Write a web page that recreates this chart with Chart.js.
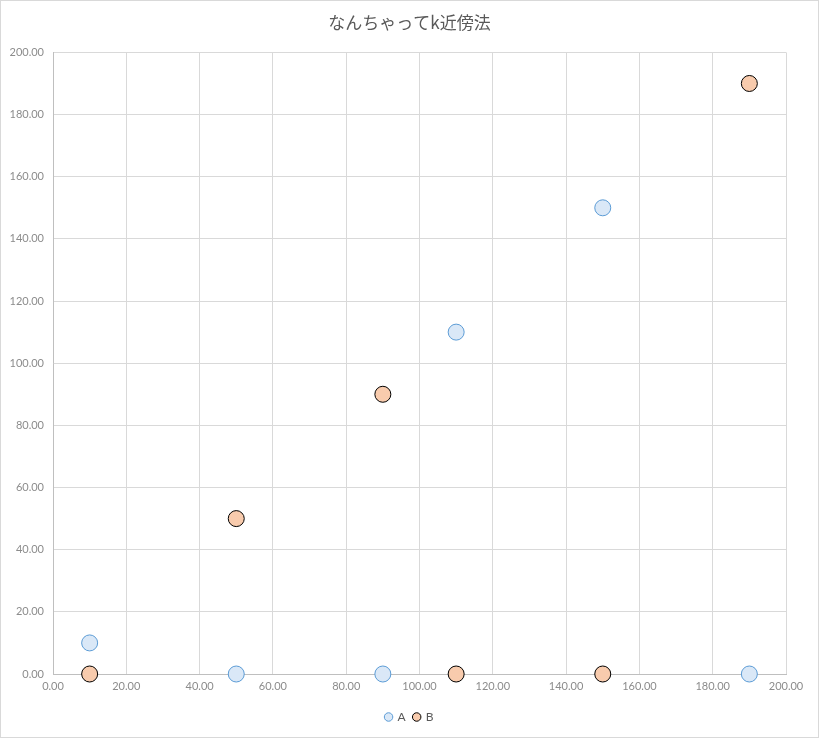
<!DOCTYPE html>
<html>
<head>
<meta charset="utf-8">
<script src="https://cdn.jsdelivr.net/npm/chart.js@4/dist/chart.umd.min.js"></script>
<style>
  body { margin: 0; background: #fff; }
  #wrap { width: 817px; height: 736px; border: 1px solid #d9d9d9; position: relative; }
</style>
</head>
<body>
<div id="wrap"><canvas id="myChart" width="817" height="736"></canvas></div>
<script>
// data
var chartTitle = 'なんちゃってk近傍法';
var seriesNames = ['A', 'B'];
var xA = [10, 50, 90, 110, 150, 190];
var yA = [10, 0, 0, 110, 150, 0];
var xB = [10, 50, 90, 110, 150, 190];
var yB = [0, 50, 90, 0, 0, 190];
var axisMin = 0, axisMax = 200, axisStep = 20;

function toPoints(xs, ys) {
  var pts = [];
  for (var i = 0; i < xs.length; i++) pts.push({ x: xs[i], y: ys[i] });
  return pts;
}

var tickFont = { family: 'Lato, "Noto Sans", sans-serif', size: 11 };
var tickColor = '#8c8c8c';

var ctx = document.getElementById('myChart').getContext('2d');
var chart = new Chart(ctx, {
  type: 'scatter',
  data: {
    datasets: [{
      label: seriesNames[0],
      data: toPoints(xA, yA),
      backgroundColor: '#dae8f7',
      borderColor: '#5b9bd5',
      borderWidth: 1,
      pointRadius: 8,
      pointHoverRadius: 8,
      clip: false
    }, {
      label: seriesNames[1],
      data: toPoints(xB, yB),
      backgroundColor: '#f8cbad',
      borderColor: '#000000',
      borderWidth: 1,
      pointRadius: 8,
      pointHoverRadius: 8,
      clip: false
    }]
  },
  options: {
    responsive: false,
    animation: false,
    layout: { padding: { left: 0, right: 0, top: 0, bottom: 4 } },
    plugins: {
      title: {
        display: true,
        text: chartTitle,
        color: '#595959',
        font: { family: '"Noto Sans CJK JP", sans-serif', size: 17, weight: 'normal' },
        padding: { top: 11, bottom: 20 }
      },
      legend: {
        position: 'bottom',
        labels: {
          usePointStyle: true,
          pointStyle: 'circle',
          boxWidth: 6,
          boxHeight: 6,
          padding: 8,
          color: '#595959',
          font: { family: 'Lato, "Noto Sans", sans-serif', size: 12 }
        }
      },
      tooltip: { enabled: false }
    },
    scales: {
      x: {
        type: 'linear',
        min: axisMin,
        max: axisMax,
        ticks: {
          stepSize: axisStep,
          color: tickColor,
          font: tickFont,
          padding: 6,
          maxRotation: 0,
          callback: function (v) { return v.toFixed(2); }
        },
        grid: { color: '#d9d9d9', drawTicks: false },
        border: { color: '#bfbfbf' },
        afterFit: function (scale) { scale.height = 29; }
      },
      y: {
        type: 'linear',
        min: axisMin,
        max: axisMax,
        ticks: {
          stepSize: axisStep,
          color: tickColor,
          font: tickFont,
          padding: 9,
          callback: function (v) { return v.toFixed(2); }
        },
        grid: { color: '#d9d9d9', drawTicks: false },
        border: { color: '#bfbfbf' },
        afterFit: function (scale) { scale.width = 52; }
      },
      // empty right margin so the title stays centred on the whole picture
      yRight: {
        position: 'right',
        ticks: { display: false },
        grid: { display: false },
        border: { display: false },
        afterFit: function (scale) { scale.width = 32; }
      }
    }
  }
});
</script>
</body>
</html>
